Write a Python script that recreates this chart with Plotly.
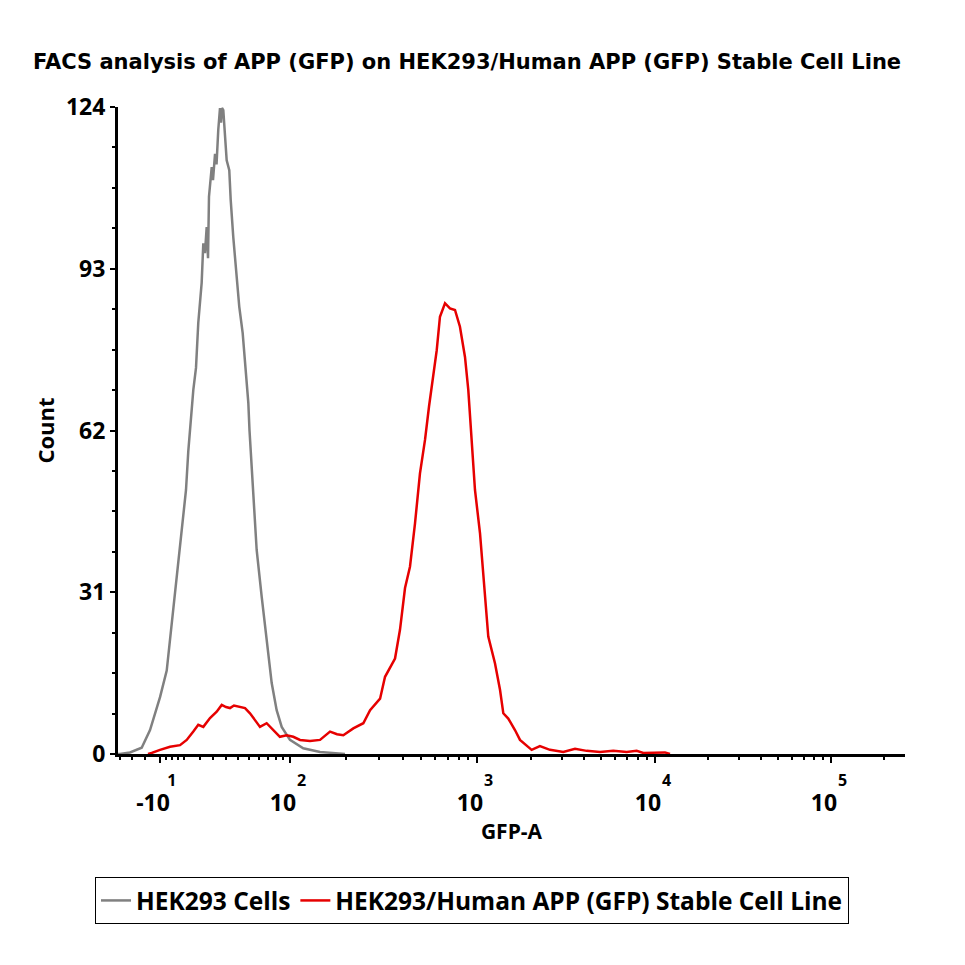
import math
import plotly.graph_objects as go

# ---- data (x = display channel of the biexponential GFP-A axis, 0..1000) ----
hek_ch = [0.0, 2.5, 15.2, 30.1, 40.7, 53.4, 61.9, 68.2, 74.6, 80.9,
          86.4, 89.3, 92.1, 95.7, 99.1, 102.0, 106.3, 108.4, 110.5, 112.7,
          114.4, 115.6, 119.1, 120.7, 123.3, 125.2, 127.4, 129.6, 130.9, 132.1,
          133.8, 135.9, 138.1, 141.4, 143.2, 146.5, 149.9, 154.1, 158.4, 161.4,
          165.6, 167.1, 169.0, 171.9, 176.2, 182.6, 188.9, 195.3, 201.6, 208.0,
          218.5, 235.4, 256.7, 277.9, 288.4]
hek_count = [0, 0, 0.3, 1.2, 4.6, 10.9, 16, 25, 35, 43,
             50.6, 58, 64, 69.8, 74, 82.6, 90.3, 97.9, 96, 101,
             95, 106.8, 112.5, 110, 115, 113, 119.6, 123.8, 121, 123.8,
             123.4, 117.7, 113.8, 111.9, 106.2, 99, 93.3, 85.7, 80.7, 75,
             67.3, 62, 57, 49.3, 39.1, 30.1, 22.4, 13.6, 8.4, 5.2,
             2.7, 1.1, 0.4, 0.2, 0]

app_ch = [38.1, 42.8, 53.4, 66.1, 78.8, 87.3, 95.7, 102.0, 108.4, 116.9,
          125.4, 131.8, 137.2, 142.3, 147.4, 152.9, 161.4, 167.7, 174.1, 180.4,
          188.9, 197.3, 205.7, 214.3, 222.7, 231.3, 244.0, 256.7, 269.4, 278.3,
          286.3, 299.0, 311.7, 320.3, 333.0, 339.3, 352.0, 358.3, 364.7, 371.0,
          377.4, 383.7, 390.1, 395.2, 400.6, 405.0, 409.1, 415.5, 421.8, 428.2,
          434.5, 440.9, 445.1, 449.4, 453.6, 460.0, 466.3, 470.5, 479.0, 485.4,
          489.6, 495.9, 504.4, 510.8, 525.6, 536.1, 548.9, 565.8, 580.7, 595.5,
          612.5, 629.3, 646.4, 659.0, 667.5, 680.2, 695.0, 701.4]
app_count = [0, 0.2, 0.8, 1.4, 1.7, 2.7, 4.3, 5.6, 5.2, 6.9,
             8.1, 9.4, 9.0, 8.8, 9.3, 9.1, 8.8, 7.8, 6.5, 5.2,
             5.9, 4.6, 3.3, 3.6, 3.3, 2.7, 2.5, 2.7, 4.3, 3.8,
             3.6, 4.9, 5.9, 8.4, 10.6, 14.8, 18.3, 23.8, 31.8, 35.9,
             44.2, 53.8, 60.2, 66.6, 72.3, 77.4, 83.8, 86.4, 85.4, 85.1,
             81.9, 76.1, 69.8, 60.2, 50.6, 42.3, 31.4, 22.5, 17.4, 12.3,
             7.8, 6.8, 4.6, 2.7, 0.8, 1.5, 0.8, 0.4, 1.0, 0.6,
             0.4, 0.6, 0.4, 0.6, 0.2, 0.3, 0.3, 0]

# axis ticks (display channel positions of the decade labels)
decade_ch = [53.4, 218.5, 456.1, 682.3, 905.9]
decade_base = ["-10", "10", "10", "10", "10"]
decade_exp = ["1", "2", "3", "4", "5"]
low_minor_ch = [2.5, 17.8, 34.3, 61.0, 68.6, 76.2, 83.9, 104.2, 120.7,
                137.2, 152.5, 166.4, 179.2, 190.6, 200.8, 209.6]
y_max = 124
y_major = 31

# minor ticks inside the log decades
minor_ch = list(low_minor_ch)
for i in range(1, len(decade_ch) - 1):
    a, b = decade_ch[i], decade_ch[i + 1]
    minor_ch += [a + (b - a) * math.log10(k) for k in range(2, 10)]
step = decade_ch[-1] - decade_ch[-2]
minor_ch += [decade_ch[-1] + step * math.log10(k) for k in range(2, 10)
             if decade_ch[-1] + step * math.log10(k) < 1000]

# decade labels: exponent drawn above and to the right of the base, as in the source
pad = "&nbsp;" * 9
x_ticktext = [f"<span style='font-size:16px'>{pad}{e}</span><br>"
              f"<span style='font-size:23px'>{b}</span>"
              for b, e in zip(decade_base, decade_exp)]

FONT = "Open Sans"

fig = go.Figure()
fig.add_trace(go.Scatter(x=hek_ch, y=hek_count, mode="lines", name="HEK293 Cells",
                         line=dict(color="#808080", width=2.5)))
fig.add_trace(go.Scatter(x=app_ch, y=app_count, mode="lines",
                         name="HEK293/Human APP (GFP) Stable Cell Line",
                         line=dict(color="#e60000", width=2.5)))

fig.update_layout(
    width=965, height=965,
    paper_bgcolor="white", plot_bgcolor="white",
    margin=dict(l=118, r=60, t=107, b=211, autoexpand=False),
    font=dict(family=FONT, color="black"),
    title=dict(text="FACS analysis of APP (GFP) on HEK293/Human APP (GFP) Stable Cell Line",
               font=dict(family="DejaVu Sans", size=21, weight="bold", color="black"),
               x=0.484, xref="container", xanchor="center",
               y=1 - 62 / 965, yref="container", yanchor="middle"),
    xaxis=dict(range=[0, 1000], showgrid=False, zeroline=False,
               showline=True, linecolor="black", linewidth=3,
               tickmode="array", tickvals=decade_ch, ticktext=x_ticktext,
               ticks="outside", ticklen=6, tickwidth=2, tickcolor="black",
               tickfont=dict(family=FONT, size=19, weight="bold"),
               ticklabelshift=-7, ticklabelstandoff=0,
               minor=dict(tickmode="array", tickvals=minor_ch, ticks="outside",
                          ticklen=3, tickwidth=2, tickcolor="black"),
               title=dict(text="GFP-A", font=dict(family=FONT, size=21, weight="bold"),
                          standoff=4)),
    yaxis=dict(range=[0, y_max], showgrid=False, zeroline=False,
               showline=True, linecolor="black", linewidth=3,
               tickmode="linear", tick0=0, dtick=y_major,
               ticks="outside", ticklen=5, tickwidth=2, tickcolor="black",
               tickfont=dict(family=FONT, size=23, weight="bold"),
               minor=dict(tickmode="linear", tick0=0, dtick=y_major / 4, ticks="outside",
                          ticklen=3, tickwidth=2, tickcolor="black"),
               title=dict(text="Count", font=dict(family=FONT, size=22, weight="bold"),
                          standoff=6)),
    showlegend=True,
    legend=dict(orientation="h", x=472 / 965, xref="container", xanchor="center",
                y=1 - 877 / 965, yref="container", yanchor="top",
                bordercolor="black", borderwidth=1, bgcolor="white",
                font=dict(family=FONT, size=24.5, weight="bold", color="black"),
                itemwidth=30, tracegroupgap=0),
)

fig.write_html("out.html")
